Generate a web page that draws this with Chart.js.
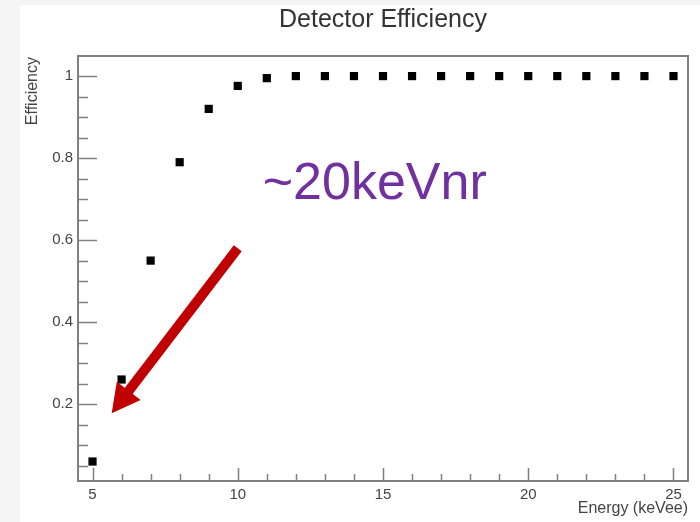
<!DOCTYPE html>
<html>
<head>
<meta charset="utf-8">
<script src="https://cdn.jsdelivr.net/npm/chart.js@4.4.0/dist/chart.umd.min.js"></script>
<style>
  html, body { margin: 0; padding: 0; background: #f5f5f5; }
  #wrap { position: absolute; left: 20px; top: 5px; width: 680px; height: 517px; background: #fff; }
</style>
</head>
<body>
<div id="wrap"><canvas id="chart" width="680" height="517"></canvas></div>
<script>
// datos
const energia = [5, 6, 7, 8, 9, 10, 11, 12, 13, 14, 15, 16, 17, 18, 19, 20, 21, 22, 23, 24, 25];
const eficiencia = [0.06, 0.26, 0.55, 0.79, 0.92, 0.976, 0.995, 1, 1, 1, 1, 1, 1, 1, 1, 1, 1, 1, 1, 1, 1];

const xTicks = [5, 10, 15, 20, 25];
const yTicks = [0.2, 0.4, 0.6, 0.8, 1];
const xMinor = [5, 6, 7, 8, 9, 10, 11, 12, 13, 14, 15, 16, 17, 18, 19, 20, 21, 22, 23, 24, 25];
const yMinor = [0.05, 0.1, 0.15, 0.2, 0.25, 0.3, 0.35, 0.4, 0.45, 0.5, 0.55, 0.6, 0.65, 0.7, 0.75, 0.8, 0.85, 0.9, 0.95, 1];

const titulo = 'Detector Efficiency';
const tituloX = 'Energy (keVee)';
const tituloY = 'Efficiency';
const nota = '~20keVnr';
// posición de la nota y de la flecha en coordenadas de datos
const notaPos = [10.86, 0.70];
const flechaDesde = [10.0, 0.58];
const flechaHasta = [5.66, 0.178];

const FUENTE = "'Liberation Sans', Arial, Helvetica, sans-serif";
const GRIS = '#808080';

Chart.defaults.font.family = FUENTE;

// dibuja marco, ticks, títulos y la anotación
const marcoRoot = {
  id: 'marcoRoot',
  afterDraw(chart) {
    const ctx = chart.ctx;
    const a = chart.chartArea;
    const sx = chart.scales.x, sy = chart.scales.y;
    ctx.save();

    // marco
    ctx.strokeStyle = GRIS;
    ctx.lineWidth = 2;
    ctx.strokeRect(a.left, a.top, a.right - a.left, a.bottom - a.top);

    // ticks
    ctx.lineWidth = 1.5;
    ctx.beginPath();
    yMinor.forEach(v => {
      const y = Math.round(sy.getPixelForValue(v)) + 0.5;
      const largo = yTicks.includes(v) ? 19 : 10;
      ctx.moveTo(a.left, y);
      ctx.lineTo(a.left + largo, y);
    });
    xMinor.forEach(v => {
      const x = Math.round(sx.getPixelForValue(v)) + 0.5;
      const largo = xTicks.includes(v) ? 13 : 7;
      ctx.moveTo(x, a.bottom);
      ctx.lineTo(x, a.bottom - largo);
    });
    ctx.stroke();

    // título
    ctx.fillStyle = '#333';
    ctx.font = '25px ' + FUENTE;
    ctx.textAlign = 'center';
    ctx.textBaseline = 'middle';
    ctx.fillText(titulo, (a.left + a.right) / 2, 15);

    // título eje x
    ctx.fillStyle = '#444';
    ctx.font = '16px ' + FUENTE;
    ctx.textAlign = 'right';
    ctx.textBaseline = 'alphabetic';
    ctx.fillText(tituloX, a.right, 508);

    // título eje y
    ctx.save();
    ctx.translate(13, a.top + 1);
    ctx.rotate(-Math.PI / 2);
    ctx.textAlign = 'right';
    ctx.textBaseline = 'middle';
    ctx.fillText(tituloY, 0, 0);
    ctx.restore();

    // nota
    ctx.fillStyle = '#7030a0';
    ctx.font = '52px ' + FUENTE;
    ctx.textAlign = 'left';
    ctx.textBaseline = 'alphabetic';
    ctx.fillText(nota, sx.getPixelForValue(notaPos[0]), sy.getPixelForValue(notaPos[1]));

    // flecha
    const x0 = sx.getPixelForValue(flechaDesde[0]), y0 = sy.getPixelForValue(flechaDesde[1]);
    const x1 = sx.getPixelForValue(flechaHasta[0]), y1 = sy.getPixelForValue(flechaHasta[1]);
    const ang = Math.atan2(y1 - y0, x1 - x0);
    const cabeza = 28, ancho = 15;
    const bx = x1 - cabeza * Math.cos(ang), by = y1 - cabeza * Math.sin(ang);
    ctx.strokeStyle = '#c00000';
    ctx.fillStyle = '#c00000';
    ctx.lineWidth = 10;
    ctx.lineCap = 'butt';
    ctx.beginPath();
    ctx.moveTo(x0, y0);
    ctx.lineTo(bx + 2 * Math.cos(ang), by + 2 * Math.sin(ang));
    ctx.stroke();
    ctx.beginPath();
    ctx.moveTo(x1, y1);
    ctx.lineTo(bx + ancho * Math.sin(ang), by - ancho * Math.cos(ang));
    ctx.lineTo(bx - ancho * Math.sin(ang), by + ancho * Math.cos(ang));
    ctx.closePath();
    ctx.fill();

    ctx.restore();
  }
};

const ctx = document.getElementById('chart').getContext('2d');
const grafico = new Chart(ctx, {
  type: 'scatter',
  data: {
    datasets: [{
      label: tituloY,
      data: energia.map((e, i) => ({ x: e, y: eficiencia[i] })),
      backgroundColor: '#000',
      borderWidth: 0,
      pointStyle: 'rect',
      pointRadius: 5.8,
      pointHoverRadius: 5.8
    }]
  },
  options: {
    responsive: false,
    animation: false,
    devicePixelRatio: 1,
    layout: { padding: { top: 51, right: 12, left: 0, bottom: 0 } },
    plugins: {
      legend: { display: false },
      tooltip: { enabled: false },
      title: { display: false }
    },
    scales: {
      x: {
        type: 'linear',
        min: 4.5,
        max: 25.5,
        grid: { display: false, drawTicks: false },
        border: { display: false },
        afterBuildTicks: s => { s.ticks = xTicks.map(v => ({ value: v })); },
        afterFit: s => { s.height = 41; },
        ticks: { color: '#444', font: { size: 15 }, padding: 5, maxRotation: 0 }
      },
      y: {
        type: 'linear',
        min: 0.0125,
        max: 1.049,
        grid: { display: false, drawTicks: false },
        border: { display: false },
        afterBuildTicks: s => { s.ticks = yTicks.map(v => ({ value: v })); },
        afterFit: s => { s.width = 58; },
        ticks: { color: '#444', font: { size: 15 }, padding: 5, callback: v => String(v) }
      }
    }
  },
  plugins: [marcoRoot]
});
</script>
</body>
</html>
